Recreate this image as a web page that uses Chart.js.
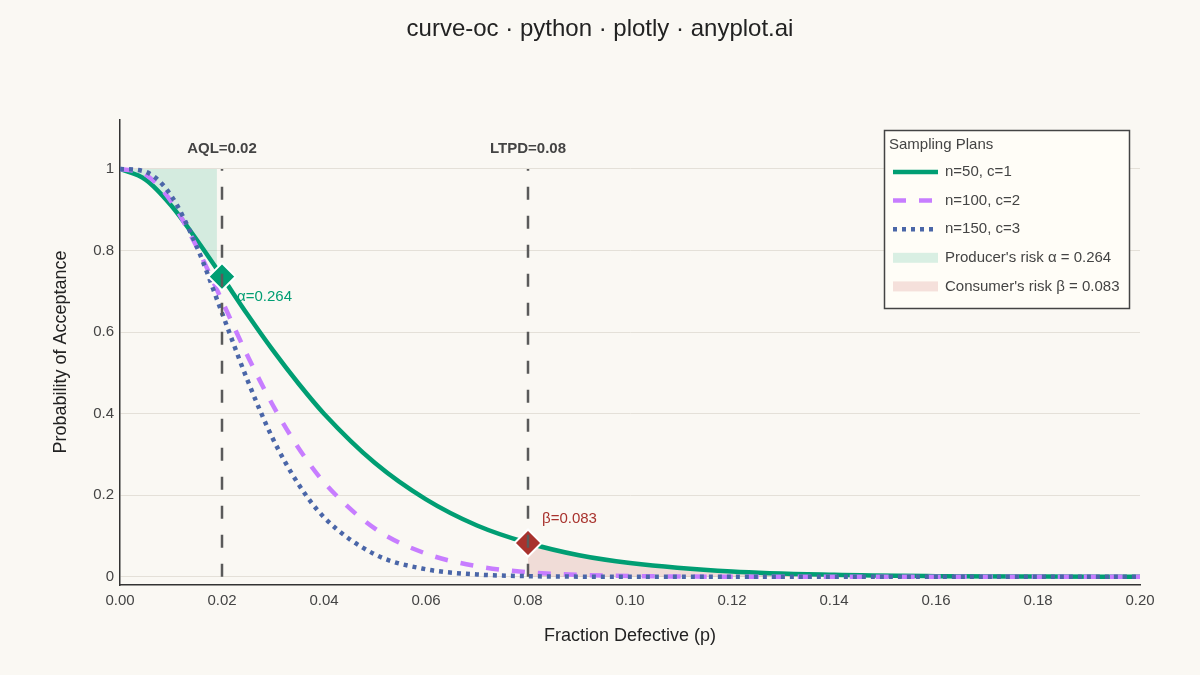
<!DOCTYPE html>
<html>
<head>
<meta charset="utf-8">
<script src="https://cdn.jsdelivr.net/npm/chart.js@4.4.1/dist/chart.umd.min.js"></script>
<style>
  html, body { margin: 0; padding: 0; background: #FAF8F3; }
  #wrap { width: 1200px; height: 675px; }
</style>
</head>
<body>
<div id="wrap"><canvas id="chart" width="1200" height="675"></canvas></div>
<script>
// fraction defective p
const pValues = [0, 0.005, 0.01, 0.015, 0.02, 0.025, 0.03, 0.035, 0.04, 0.05, 0.06, 0.07, 0.08, 0.09, 0.10, 0.12, 0.14, 0.16, 0.18, 0.20];
// probability of acceptance for each plan
const planA = [1, 0.974, 0.911, 0.827, 0.736, 0.643, 0.555, 0.474, 0.400, 0.279, 0.190, 0.126, 0.083, 0.053, 0.034, 0.0131, 0.0049, 0.0017, 0.0006, 0.0002];
const planB = [1, 0.986, 0.921, 0.810, 0.677, 0.542, 0.420, 0.316, 0.232, 0.118, 0.057, 0.026, 0.0113, 0.0048, 0.0019, 0.0003, 0.00004, 0, 0, 0];
const planC = [1, 0.993, 0.935, 0.811, 0.647, 0.482, 0.338, 0.227, 0.146, 0.055, 0.0186, 0.0058, 0.0017, 0.0005, 0.0001, 0, 0, 0, 0, 0];
const planLabels = ['n=50, c=1', 'n=100, c=2', 'n=150, c=3'];

// shaded risk regions (along plan A)
const producerP = [0, 0.005, 0.01, 0.015, 0.019];
const producerPa = [1, 0.974, 0.911, 0.827, 0.754];
const consumerP = [0.08, 0.09, 0.10, 0.12, 0.14, 0.16, 0.18, 0.20];
const consumerPa = [0.083, 0.053, 0.034, 0.0131, 0.0049, 0.0017, 0.0006, 0.0002];

const aql = 0.02;
const ltpd = 0.08;
const alphaRisk = 0.264;
const betaRisk = 0.083;

const xTicks = [0, 0.02, 0.04, 0.06, 0.08, 0.10, 0.12, 0.14, 0.16, 0.18, 0.20];
const yTicks = [0, 0.2, 0.4, 0.6, 0.8, 1];

const FONT = '"Liberation Sans", Arial, Helvetica, sans-serif';
const GREEN = '#009E73';
const PURPLE = '#C77DFF';
const BLUE = '#4A66A8';
const RED = '#A8322D';

const toPoints = (xs, ys) => xs.map((x, i) => ({ x: x, y: ys[i] }));

const datasets = [
    {
        type: 'scatter',
        label: 'markers',
        data: [{ x: aql, y: 1 - alphaRisk }, { x: ltpd, y: betaRisk }],
        showLine: false,
        pointStyle: 'rectRot',
        pointRadius: 13.5,
        pointBackgroundColor: [GREEN, RED],
        pointBorderColor: '#ffffff',
        pointBorderWidth: 2,
        order: 0,
        noLegend: true
    },
    {
        label: planLabels[2],
        data: toPoints(pValues, planC),
        borderColor: BLUE,
        borderWidth: 4.5,
        borderDash: [4, 5],
        pointRadius: 0,
        cubicInterpolationMode: 'monotone',
        fill: false,
        order: 1,
        legendRank: 2
    },
    {
        label: planLabels[1],
        data: toPoints(pValues, planB),
        borderColor: PURPLE,
        borderWidth: 4.5,
        borderDash: [13, 13],
        pointRadius: 0,
        cubicInterpolationMode: 'monotone',
        fill: false,
        order: 2,
        legendRank: 1
    },
    {
        label: planLabels[0],
        data: toPoints(pValues, planA),
        borderColor: GREEN,
        borderWidth: 4.5,
        pointRadius: 0,
        cubicInterpolationMode: 'monotone',
        fill: false,
        order: 3,
        legendRank: 0
    },
    {
        label: "Producer's risk \u03b1 = " + alphaRisk.toFixed(3),
        data: toPoints(producerP, producerPa),
        borderWidth: 0,
        borderColor: 'rgba(0,0,0,0)',
        backgroundColor: 'rgba(0,158,115,0.15)',
        pointRadius: 0,
        cubicInterpolationMode: 'monotone',
        fill: { value: 1 },
        order: 5,
        legendRank: 3,
        isArea: true
    },
    {
        label: "Consumer's risk \u03b2 = " + betaRisk.toFixed(3),
        data: toPoints(consumerP, consumerPa),
        borderWidth: 0,
        borderColor: 'rgba(0,0,0,0)',
        backgroundColor: 'rgba(178,34,34,0.13)',
        pointRadius: 0,
        cubicInterpolationMode: 'monotone',
        fill: { value: 0 },
        order: 5,
        legendRank: 4,
        isArea: true
    }
];

// text, reference lines and legend drawn on top of the chart
const decorPlugin = {
    id: 'decor',
    beforeDatasetsDraw(chart) {
        const ctx = chart.ctx;
        const xs = chart.scales.x, ys = chart.scales.y;
        ctx.save();
        ctx.font = '15px ' + FONT;
        ctx.textAlign = 'left';
        ctx.textBaseline = 'middle';
        ctx.fillStyle = GREEN;
        ctx.fillText('\u03b1=' + alphaRisk.toFixed(3), xs.getPixelForValue(aql) + 15, ys.getPixelForValue(1 - alphaRisk) + 20);
        ctx.fillStyle = RED;
        ctx.fillText('\u03b2=' + betaRisk.toFixed(3), xs.getPixelForValue(ltpd) + 14, ys.getPixelForValue(betaRisk) - 24);
        ctx.restore();
    },
    afterDatasetsDraw(chart) {
        const ctx = chart.ctx;
        const xs = chart.scales.x, ys = chart.scales.y;
        ctx.save();
        [[aql, 'AQL=' + aql.toFixed(2)], [ltpd, 'LTPD=' + ltpd.toFixed(2)]].forEach(([v, txt]) => {
            const px = xs.getPixelForValue(v);
            ctx.strokeStyle = '#5a5a5a';
            ctx.lineWidth = 2.5;
            ctx.setLineDash([13, 16]);
            ctx.beginPath();
            ctx.moveTo(px, ys.getPixelForValue(0));
            ctx.lineTo(px, ys.getPixelForValue(1));
            ctx.stroke();
            ctx.setLineDash([]);
            ctx.font = 'bold 15px ' + FONT;
            ctx.fillStyle = '#444444';
            ctx.textAlign = 'center';
            ctx.textBaseline = 'middle';
            ctx.fillText(txt, px, 149);
        });
        ctx.restore();
    },
    afterDraw(chart) {
        const ctx = chart.ctx;
        ctx.save();
        // title
        ctx.fillStyle = '#222222';
        ctx.textAlign = 'center';
        ctx.textBaseline = 'middle';
        ctx.font = '24px ' + FONT;
        ctx.fillText('curve-oc \u00b7 python \u00b7 plotly \u00b7 anyplot.ai', 600, 29);
        // axis titles
        ctx.font = '18px ' + FONT;
        ctx.fillText('Fraction Defective (p)', 630, 636);
        ctx.save();
        ctx.translate(61, 352);
        ctx.rotate(-Math.PI / 2);
        ctx.fillText('Probability of Acceptance', 0, 0);
        ctx.restore();

        // legend
        const bx = 884.5, by = 130.5, bw = 245, bh = 178;
        ctx.fillStyle = '#FFFDF7';
        ctx.fillRect(bx, by, bw, bh);
        ctx.strokeStyle = '#444444';
        ctx.lineWidth = 1.5;
        ctx.strokeRect(bx, by, bw, bh);
        ctx.font = '15px ' + FONT;
        ctx.textAlign = 'left';
        ctx.fillStyle = '#444444';
        ctx.fillText('Sampling Plans', 889, 145);
        const items = chart.data.datasets.filter(d => !d.noLegend)
            .sort((a, b) => a.legendRank - b.legendRank);
        items.forEach((d, i) => {
            const y = 172 + i * 28.6;
            if (d.isArea) {
                ctx.fillStyle = d.backgroundColor;
                ctx.fillRect(893, y - 5, 45, 10);
            } else {
                ctx.strokeStyle = d.borderColor;
                ctx.lineWidth = d.borderWidth;
                ctx.setLineDash(d.borderDash || []);
                ctx.beginPath();
                ctx.moveTo(893, y);
                ctx.lineTo(938, y);
                ctx.stroke();
                ctx.setLineDash([]);
            }
            ctx.fillStyle = '#444444';
            ctx.fillText(d.label, 945, y);
        });
        ctx.restore();
    }
};

new Chart(document.getElementById('chart'), {
    type: 'line',
    data: { datasets: datasets },
    options: {
        responsive: false,
        animation: false,
        devicePixelRatio: 1,
        layout: { padding: { left: 0, top: 120, right: 60, bottom: 0 } },
        plugins: {
            legend: { display: false },
            tooltip: { enabled: false },
            title: { display: false }
        },
        scales: {
            x: {
                type: 'linear',
                min: 0,
                max: 0.2,
                afterBuildTicks: (axis) => { axis.ticks = xTicks.map(v => ({ value: v })); },
                afterFit: (scale) => { scale.height = 90; },
                grid: { display: false, drawTicks: false },
                border: { display: true, color: '#333333', width: 1.5 },
                ticks: {
                    padding: 7,
                    color: '#444444',
                    font: { family: FONT, size: 15 },
                    callback: (v) => Number(v).toFixed(2),
                    maxRotation: 0
                }
            },
            y: {
                type: 'linear',
                min: -0.02,
                max: 1.12,
                afterBuildTicks: (axis) => { axis.ticks = yTicks.map(v => ({ value: v })); },
                afterFit: (scale) => { scale.width = 120; },
                grid: { color: '#E4E0D8', lineWidth: 1, drawTicks: false },
                border: { display: true, color: '#333333', width: 1.5 },
                ticks: {
                    padding: 6,
                    color: '#444444',
                    font: { family: FONT, size: 15 },
                    callback: (v) => (v === 0 ? '0' : v === 1 ? '1' : Number(v).toFixed(1))
                }
            }
        }
    },
    plugins: [decorPlugin]
});
</script>
</body>
</html>
